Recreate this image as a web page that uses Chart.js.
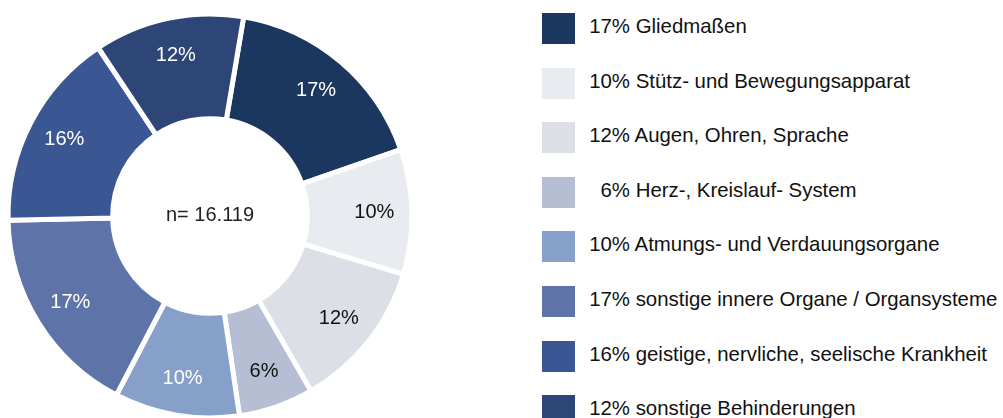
<!DOCTYPE html>
<html>
<head>
<meta charset="utf-8">
<script src="https://cdn.jsdelivr.net/npm/chart.js@4"></script>
<style>
  html, body { margin: 0; padding: 0; background: #fff; overflow: hidden; }
  body { width: 1003px; height: 418px; position: relative; font-family: "Liberation Sans", Arial, Helvetica, sans-serif; }
  #chartBox { position: absolute; left: 0; top: 0; width: 420px; height: 432px; }
  #legend { position: absolute; left: 542px; top: 13px; }
  .row { position: absolute; left: 0; display: flex; align-items: center; height: 31px; white-space: nowrap; }
  .box { width: 33px; height: 31px; margin-right: 14px; }
  .pct { display: inline-block; width: 41px; text-align: right; }
  .txt { font-size: 20.4px; color: #111; position: relative; top: -2px; }
</style>
</head>
<body>
<div id="chartBox"><canvas id="donut"></canvas></div>
<div id="legend"></div>
<script>
const categories = [
  "Gliedmaßen",
  "Stütz- und Bewegungsapparat",
  "Augen, Ohren, Sprache",
  "Herz-, Kreislauf- System",
  "Atmungs- und Verdauungsorgane",
  "sonstige innere Organe / Organsysteme",
  "geistige, nervliche, seelische Krankheit",
  "sonstige Behinderungen"
];
const shares = [17, 10, 12, 6, 10, 17, 16, 12];
const sampleSize = "n= 16.119";

const colors = ["#1b365f", "#e8ebef", "#dcdfe5", "#b5bed3", "#86a0ca", "#5e74a9", "#3b5793", "#2d4577"];
const labelColors = ["#fff", "#111", "#111", "#111", "#fff", "#fff", "#fff", "#fff"];

// percent labels inside the slices + sample size in the hole
const sliceLabels = {
  id: "sliceLabels",
  afterDatasetsDraw(chart) {
    const ctx = chart.ctx;
    const meta = chart.getDatasetMeta(0);
    ctx.save();
    ctx.font = "20px 'Liberation Sans', Arial, sans-serif";
    ctx.textAlign = "center";
    ctx.textBaseline = "middle";
    meta.data.forEach((arc, i) => {
      const p = arc.getProps(["x", "y", "startAngle", "endAngle", "innerRadius", "outerRadius"], true);
      const mid = (p.startAngle + p.endAngle) / 2;
      const r = p.innerRadius + (p.outerRadius - p.innerRadius) * 0.64;
      ctx.fillStyle = labelColors[i];
      ctx.fillText(shares[i] + "%", p.x + Math.cos(mid) * r, p.y + Math.sin(mid) * r);
    });
    const a = meta.data[0];
    ctx.fillStyle = "#222";
    ctx.fillText(sampleSize, a.x, a.y - 1);
    ctx.restore();
  }
};

new Chart(document.getElementById("donut"), {
  type: "doughnut",
  data: {
    labels: categories,
    datasets: [
      {
        data: shares,
        backgroundColor: colors,
        borderColor: "#fff",
        borderWidth: 5,
        hoverOffset: 0
      }
    ]
  },
  options: {
    responsive: true,
    maintainAspectRatio: false,
    animation: false,
    rotation: 9.6,
    radius: 202,
    cutout: 100,
    layout: { padding: 0 },
    plugins: {
      legend: { display: false },
      tooltip: { enabled: false }
    }
  },
  plugins: [sliceLabels]
});

const legend = document.getElementById("legend");
categories.forEach((name, i) => {
  const row = document.createElement("div");
  row.className = "row";
  row.style.top = (i * 54.6) + "px";
  row.innerHTML =
    '<div class="box" style="background:' + colors[i] + '"></div>' +
    '<span class="txt"><span class="pct">' + shares[i] + '%</span> ' + name + '</span>';
  legend.appendChild(row);
});
</script>
</body>
</html>
